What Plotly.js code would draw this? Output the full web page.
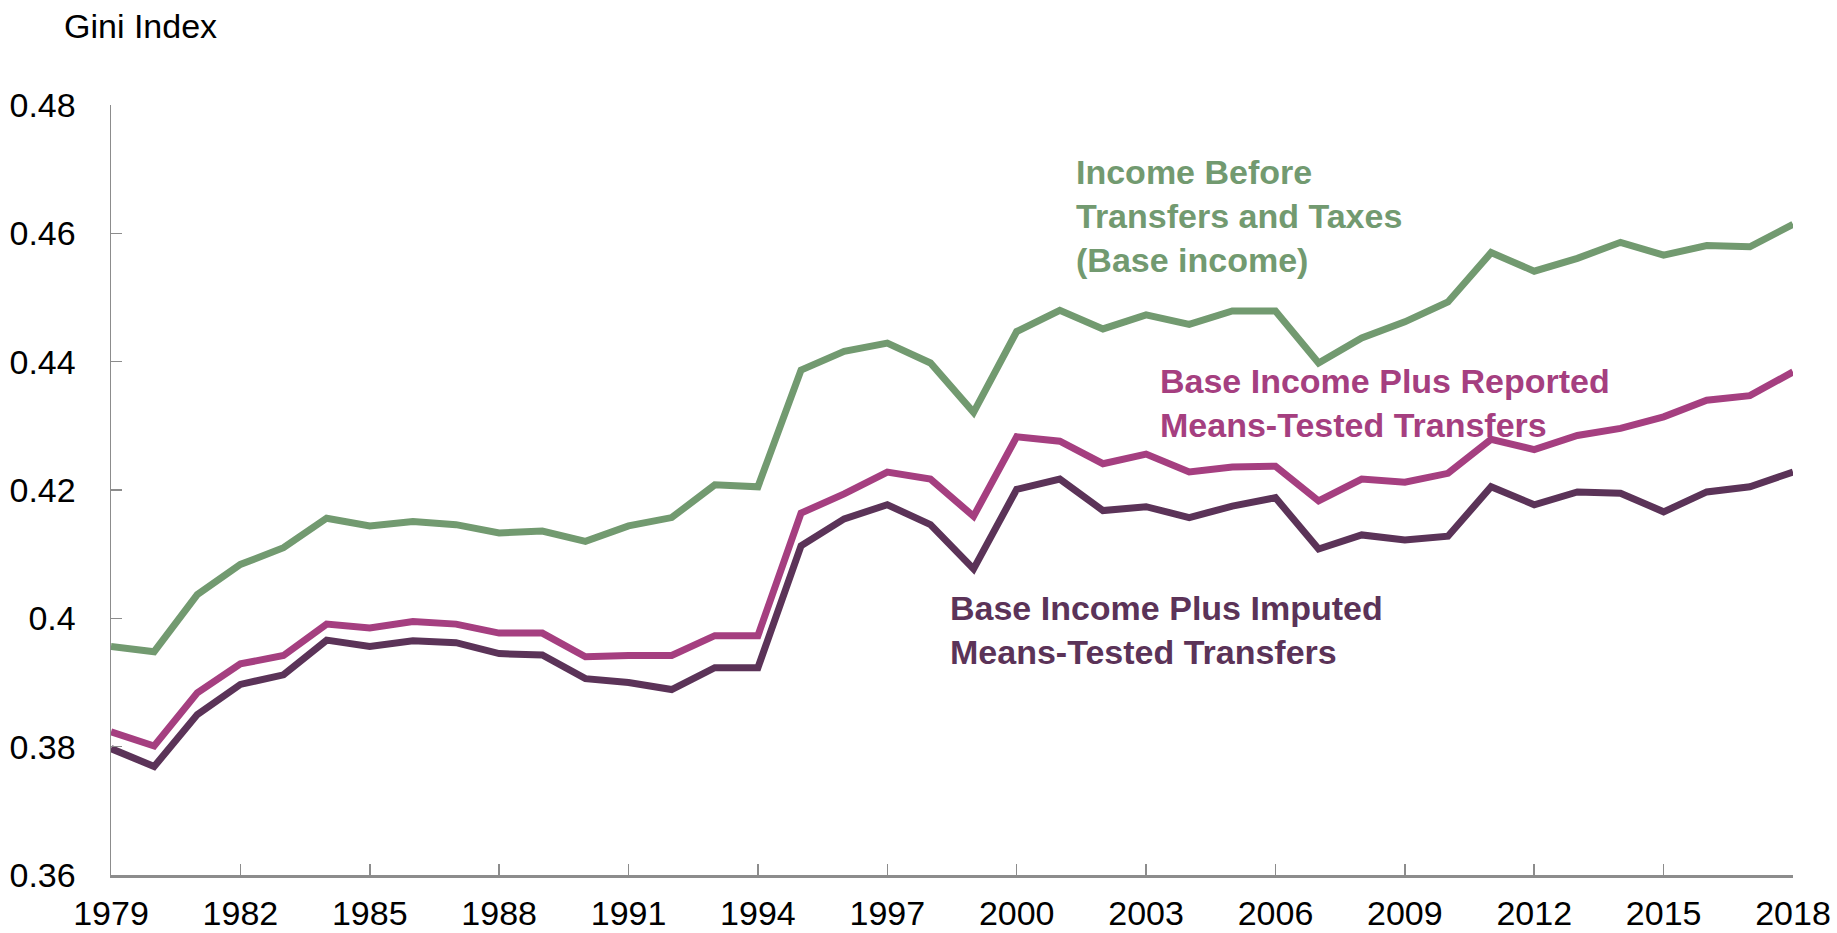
<!DOCTYPE html>
<html>
<head>
<meta charset="utf-8">
<script src="https://cdn.plot.ly/plotly-3.0.1.min.js"></script>
<style>html,body{margin:0;padding:0;background:#fff;}#chart{width:1837px;height:933px;}</style>
</head>
<body>
<div id="chart"></div>
<script>
const years = [1979,1980,1981,1982,1983,1984,1985,1986,1987,1988,1989,1990,1991,1992,1993,1994,1995,1996,1997,1998,1999,2000,2001,2002,2003,2004,2005,2006,2007,2008,2009,2010,2011,2012,2013,2014,2015,2016,2017,2018];

const baseIncome = [0.3956,0.3948,0.4037,0.4084,0.4110,0.4156,0.4144,0.4151,0.4146,0.4133,0.4136,0.4120,0.4144,0.4157,0.4208,0.4205,0.4387,0.4416,0.4429,0.4398,0.4321,0.4447,0.4480,0.4451,0.4473,0.4458,0.4479,0.4479,0.4398,0.4437,0.4462,0.4493,0.4570,0.4541,0.4561,0.4586,0.4566,0.4581,0.4579,0.4614];

const reportedTransfers = [0.3823,0.3801,0.3884,0.3929,0.3942,0.3991,0.3985,0.3995,0.3991,0.3977,0.3977,0.3940,0.3942,0.3942,0.3973,0.3973,0.4164,0.4194,0.4228,0.4217,0.4159,0.4283,0.4276,0.4241,0.4256,0.4228,0.4236,0.4237,0.4183,0.4217,0.4212,0.4226,0.4279,0.4263,0.4285,0.4296,0.4314,0.4340,0.4347,0.4384];

const imputedTransfers = [0.3797,0.3769,0.3850,0.3897,0.3912,0.3966,0.3956,0.3965,0.3962,0.3945,0.3943,0.3906,0.3900,0.3889,0.3923,0.3923,0.4113,0.4155,0.4177,0.4146,0.4077,0.4201,0.4217,0.4168,0.4174,0.4157,0.4175,0.4188,0.4108,0.4130,0.4122,0.4128,0.4205,0.4177,0.4197,0.4195,0.4166,0.4197,0.4205,0.4228];

const xTickVals = [1979,1982,1985,1988,1991,1994,1997,2000,2003,2006,2009,2012,2015,2018];
const yTickVals = [0.36,0.38,0.40,0.42,0.44,0.46,0.48];
const yTickText = ["0.36","0.38","0.4","0.42","0.44","0.46","0.48"];

const seriesNames = [
  "Income Before<br>Transfers and Taxes<br>(Base income)",
  "Base Income Plus Reported<br>Means-Tested Transfers",
  "Base Income Plus Imputed<br>Means-Tested Transfers"
];

const GREEN = "#729a70";
const PINK = "#a53f80";
const DARK = "#5b3358";
const FONT = "Liberation Sans, Arial, sans-serif";

const traces = [
  {x: years, y: baseIncome, name: "Base income", mode: "lines", line: {color: GREEN, width: 7}},
  {x: years, y: reportedTransfers, name: "Reported", mode: "lines", line: {color: PINK, width: 7}},
  {x: years, y: imputedTransfers, name: "Imputed", mode: "lines", line: {color: DARK, width: 7}}
];

const layout = {
  width: 1837,
  height: 933,
  margin: {l: 111, r: 44, t: 105, b: 58},
  paper_bgcolor: "#ffffff",
  plot_bgcolor: "#ffffff",
  showlegend: false,
  font: {family: FONT, size: 34, color: "#000"},
  title: {
    text: "Gini Index",
    font: {family: FONT, size: 34, color: "#000"},
    x: 64/1837, xanchor: "left", xref: "container",
    y: 1 - 26/933, yanchor: "middle", yref: "container"
  },
  xaxis: {
    range: [1979, 2018],
    tickmode: "array",
    tickvals: xTickVals,
    ticktext: xTickVals.map(String),
    ticks: "inside",
    ticklen: 11,
    tickwidth: 1.5,
    tickcolor: "#8c8c8c",
    showline: true,
    linecolor: "#8c8c8c",
    linewidth: 2.5,
    showgrid: false,
    zeroline: false,
    ticklabelstandoff: 7,
    tickfont: {family: FONT, size: 34, color: "#000"}
  },
  yaxis: {
    range: [0.36, 0.48],
    tickmode: "array",
    tickvals: yTickVals,
    ticktext: yTickText,
    ticks: "inside",
    ticklen: 11,
    tickwidth: 1.5,
    tickcolor: "#8c8c8c",
    showline: true,
    linecolor: "#8c8c8c",
    linewidth: 1.5,
    showgrid: false,
    zeroline: false,
    ticklabelstandoff: 27,
    tickfont: {family: FONT, size: 34, color: "#000"}
  },
  annotations: [
    {x: 2001.33, y: 0.4627, xref: "x", yref: "y", text: "<b>" + seriesNames[0] + "</b>", showarrow: false,
     xanchor: "left", yanchor: "middle", align: "left", font: {family: FONT, size: 34, color: GREEN}},
    {x: 2003.28, y: 0.4336, xref: "x", yref: "y", text: "<b>" + seriesNames[1] + "</b>", showarrow: false,
     xanchor: "left", yanchor: "middle", align: "left", font: {family: FONT, size: 34, color: PINK}},
    {x: 1998.41, y: 0.3982, xref: "x", yref: "y", text: "<b>" + seriesNames[2] + "</b>", showarrow: false,
     xanchor: "left", yanchor: "middle", align: "left", font: {family: FONT, size: 34, color: DARK}}
  ]
};

Plotly.newPlot("chart", traces, layout, {staticPlot: true, displayModeBar: false});
</script>
</body>
</html>
